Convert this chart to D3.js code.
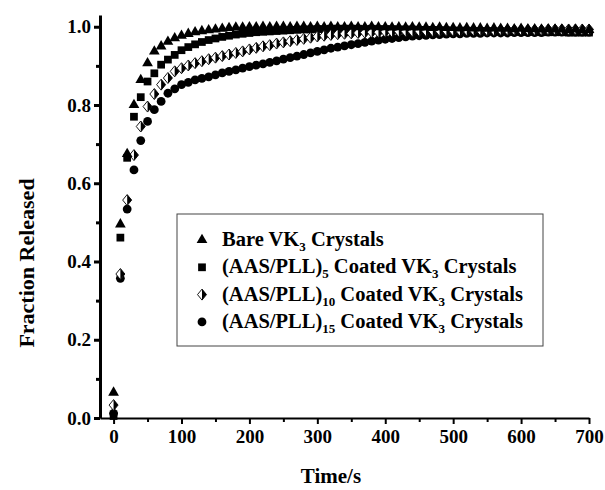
<!DOCTYPE html>
<html>
<head>
<meta charset='UTF-8'>
<title>Fraction Released</title>
<script src='https://d3js.org/d3.v7.min.js'></script>
<style>
    body { margin: 0; background: #fff; }
    svg text { font-family: "Liberation Serif", "Times New Roman", serif; font-weight: bold; fill: #000; }
</style>
</head>

<body>
    <div id='chart'></div>

    <script type='text/javascript'>

        // sampling times (s)
        var times = [0, 10, 20, 30, 40, 50, 60, 70, 80, 90,
                     100, 110, 120, 130, 140, 150, 160, 170, 180, 190,
                     200, 210, 220, 230, 240, 250, 260, 270, 280, 290,
                     300, 310, 320, 330, 340, 350, 360, 370, 380, 390,
                     400, 410, 420, 430, 440, 450, 460, 470, 480, 490,
                     500, 510, 520, 530, 540, 550, 560, 570, 580, 590,
                     600, 610, 620, 630, 640, 650, 660, 670, 680, 690,
                     700];

        var bareVK3 = [0.065, 0.495, 0.675, 0.800, 0.864, 0.907, 0.937, 0.950, 0.962, 0.971,
                       0.977, 0.982, 0.986, 0.989, 0.991, 0.993, 0.995, 0.997, 0.998, 0.998,
                       0.999, 0.999, 1.000, 0.999, 1.000, 1.000, 0.999, 1.000, 1.000, 0.999,
                       1.000, 0.999, 1.000, 0.999, 0.999, 1.000, 0.999, 0.999, 1.000, 0.999,
                       0.999, 0.998, 0.999, 0.998, 0.999, 0.998, 0.998, 0.997, 0.998, 0.997,
                       0.997, 0.996, 0.997, 0.996, 0.996, 0.995, 0.996, 0.995, 0.995, 0.994,
                       0.995, 0.994, 0.994, 0.993, 0.994, 0.993, 0.993, 0.992, 0.993, 0.992,
                       0.992];

        var coated5 = [0.005, 0.461, 0.665, 0.770, 0.820, 0.860, 0.881, 0.903, 0.916, 0.928,
                       0.940, 0.948, 0.955, 0.961, 0.966, 0.970, 0.974, 0.977, 0.980, 0.982,
                       0.984, 0.986, 0.987, 0.988, 0.989, 0.990, 0.991, 0.992, 0.993, 0.993,
                       0.994, 0.994, 0.995, 0.995, 0.995, 0.995, 0.995, 0.994, 0.995, 0.994,
                       0.994, 0.994, 0.993, 0.993, 0.993, 0.992, 0.992, 0.992, 0.991, 0.991,
                       0.990, 0.990, 0.990, 0.989, 0.989, 0.989, 0.988, 0.988, 0.988, 0.987,
                       0.987, 0.987, 0.987, 0.986, 0.986, 0.986, 0.986, 0.985, 0.985, 0.985,
                       0.985];

        var coated10 = [0.033, 0.368, 0.557, 0.672, 0.745, 0.796, 0.828, 0.852, 0.869, 0.886,
                        0.894, 0.901, 0.907, 0.912, 0.917, 0.921, 0.925, 0.929, 0.933, 0.937,
                        0.942, 0.946, 0.950, 0.953, 0.957, 0.960, 0.963, 0.966, 0.969, 0.972,
                        0.975, 0.977, 0.979, 0.981, 0.982, 0.983, 0.984, 0.985, 0.986, 0.986,
                        0.987, 0.987, 0.988, 0.988, 0.988, 0.989, 0.989, 0.989, 0.990, 0.990,
                        0.990, 0.990, 0.991, 0.991, 0.991, 0.991, 0.991, 0.992, 0.992, 0.992,
                        0.992, 0.992, 0.992, 0.992, 0.993, 0.993, 0.993, 0.993, 0.993, 0.993,
                        0.993];

        var coated15 = [0.012, 0.357, 0.534, 0.634, 0.709, 0.758, 0.788, 0.809, 0.830, 0.841,
                        0.852, 0.858, 0.864, 0.868, 0.872, 0.877, 0.882, 0.886, 0.890, 0.894,
                        0.898, 0.902, 0.905, 0.909, 0.913, 0.917, 0.921, 0.925, 0.929, 0.933,
                        0.937, 0.941, 0.945, 0.948, 0.951, 0.954, 0.957, 0.960, 0.963, 0.966,
                        0.968, 0.970, 0.972, 0.974, 0.976, 0.977, 0.978, 0.979, 0.980, 0.981,
                        0.982, 0.982, 0.983, 0.983, 0.983, 0.984, 0.984, 0.984, 0.984, 0.985,
                        0.985, 0.985, 0.985, 0.985, 0.986, 0.986, 0.986, 0.986, 0.986, 0.986,
                        0.986];

        var xTicks = [0, 100, 200, 300, 400, 500, 600, 700];
        var xMinorTicks = [50, 150, 250, 350, 450, 550, 650];
        var yTicks = [0.0, 0.2, 0.4, 0.6, 0.8, 1.0];
        var yMinorTicks = [0.1, 0.3, 0.5, 0.7, 0.9];

        // legend text pieces: [text, isSubscript]
        var legendLabels = [
            [['Bare VK', 0], ['3', 1], [' Crystals', 0]],
            [['(AAS/PLL)', 0], ['5', 1], [' Coated VK', 0], ['3', 1], [' Crystals', 0]],
            [['(AAS/PLL)', 0], ['10', 1], [' Coated VK', 0], ['3', 1], [' Crystals', 0]],
            [['(AAS/PLL)', 0], ['15', 1], [' Coated VK', 0], ['3', 1], [' Crystals', 0]]
        ];

        var width = 605,
            height = 490;
        var serif = '"Liberation Serif", "Times New Roman", serif';

        var svg = d3.select('#chart').append('svg')
                    .attr('width', width)
                    .attr('height', height);

        var x = d3.scaleLinear().domain([-20, 700]).range([100, 589]),
            y = d3.scaleLinear().domain([0, 1.03]).range([418, 15]);

        // marker drawing functions
        function triangle(sel) {
            sel.append('path')
               .attr('d', d3.symbol().type(d3.symbolTriangle).size(50)())
               .attr('fill', '#000');
        }
        function square(sel) {
            sel.append('path')
               .attr('d', d3.symbol().type(d3.symbolSquare).size(60)())
               .attr('fill', '#000');
        }
        function circle(sel) {
            sel.append('circle')
               .attr('r', 4.4)
               .attr('fill', '#000');
        }
        function halfDiamond(sel) {
            sel.append('path')
               .attr('d', 'M0,-5.5L4.5,0L0,5.5L-4.5,0Z')
               .attr('fill', '#fff')
               .attr('stroke', '#000')
               .attr('stroke-width', 0.9);
            sel.append('path')
               .attr('d', 'M0,-5.5L4.5,0L0,5.5Z')
               .attr('fill', '#000');
        }

        var series = [
            {values: coated15, marker: circle},
            {values: coated5, marker: square},
            {values: coated10, marker: halfDiamond},
            {values: bareVK3, marker: triangle}
        ];

        series.forEach(function(s) {
            svg.append('g')
               .selectAll('g')
               .data(times)
               .enter().append('g')
                 .attr('transform', function(d, i) {
                     return 'translate(' + x(d) + ',' + y(s.values[i]) + ')';
                 })
                 .call(s.marker);
        });

        // Y axis
        var yAxis = svg.append('g')
                       .attr('transform', 'translate(' + x(-20) + ',0)')
                       .call(d3.axisLeft(y).tickValues(yTicks).tickSize(6).tickSizeOuter(0)
                               .tickFormat(d3.format('.1f')))
                       .attr('font-family', serif);
        yAxis.select('.domain').attr('stroke-width', 3);
        yAxis.selectAll('.tick line').attr('stroke-width', 3);
        yAxis.selectAll('.tick text')
             .attr('x', -9)
             .style('font-size', '19px');

        svg.append('g')
           .attr('transform', 'translate(' + x(-20) + ',0)')
           .call(d3.axisLeft(y).tickValues(yMinorTicks).tickSize(4).tickFormat(''))
           .call(function(g) { g.select('.domain').remove(); })
           .selectAll('.tick line').attr('stroke-width', 3);

        // X axis
        var xAxis = svg.append('g')
                       .attr('transform', 'translate(0,' + y(0) + ')')
                       .call(d3.axisBottom(x).tickValues(xTicks).tickSize(6).tickSizeOuter(0))
                       .attr('font-family', serif);
        xAxis.select('.domain').attr('stroke-width', 1.8);
        xAxis.selectAll('.tick line').attr('stroke-width', 2);
        xAxis.selectAll('.tick text')
             .attr('y', 12)
             .style('font-size', '19px');

        svg.append('g')
           .attr('transform', 'translate(0,' + y(0) + ')')
           .call(d3.axisBottom(x).tickValues(xMinorTicks).tickSize(4).tickFormat(''))
           .call(function(g) { g.select('.domain').remove(); })
           .selectAll('.tick line').attr('stroke-width', 2);

        // axis titles
        svg.append('text')
           .attr('x', 331)
           .attr('y', 483)
           .attr('text-anchor', 'middle')
           .style('font-size', '21px')
           .text('Time/s');

        svg.append('text')
           .attr('transform', 'translate(34,263) rotate(-90)')
           .attr('text-anchor', 'middle')
           .style('font-size', '22px')
           .text('Fraction Released');

        // legend
        var legend = svg.append('g').attr('class', 'legend');
        legend.append('rect')
              .attr('x', 177)
              .attr('y', 214)
              .attr('width', 366)
              .attr('height', 132)
              .attr('fill', '#fff')
              .attr('stroke', '#444')
              .attr('stroke-width', 1);

        var legendMarkers = [triangle, square, halfDiamond, circle];
        var rows = legend.selectAll('g.row')
                         .data(legendLabels)
                         .enter().append('g')
                           .attr('class', 'row')
                           .attr('transform', function(d, i) {
                               return 'translate(202,' + (240 + i * 27.3) + ')';
                           });

        rows.each(function(d, i) {
            var row = d3.select(this);
            row.append('g').call(legendMarkers[i]);
            var t = row.append('text')
                       .attr('x', 20)
                       .attr('y', 6)
                       .style('font-size', '20.5px');
            var shift = 0;
            d.forEach(function(piece) {
                var target = piece[1] ? 5 : 0;
                var span = t.append('tspan')
                            .attr('dy', target - shift)
                            .text(piece[0]);
                if (piece[1]) span.style('font-size', '13px');
                shift = target;
            });
        });

    </script>
</body>
</html>
